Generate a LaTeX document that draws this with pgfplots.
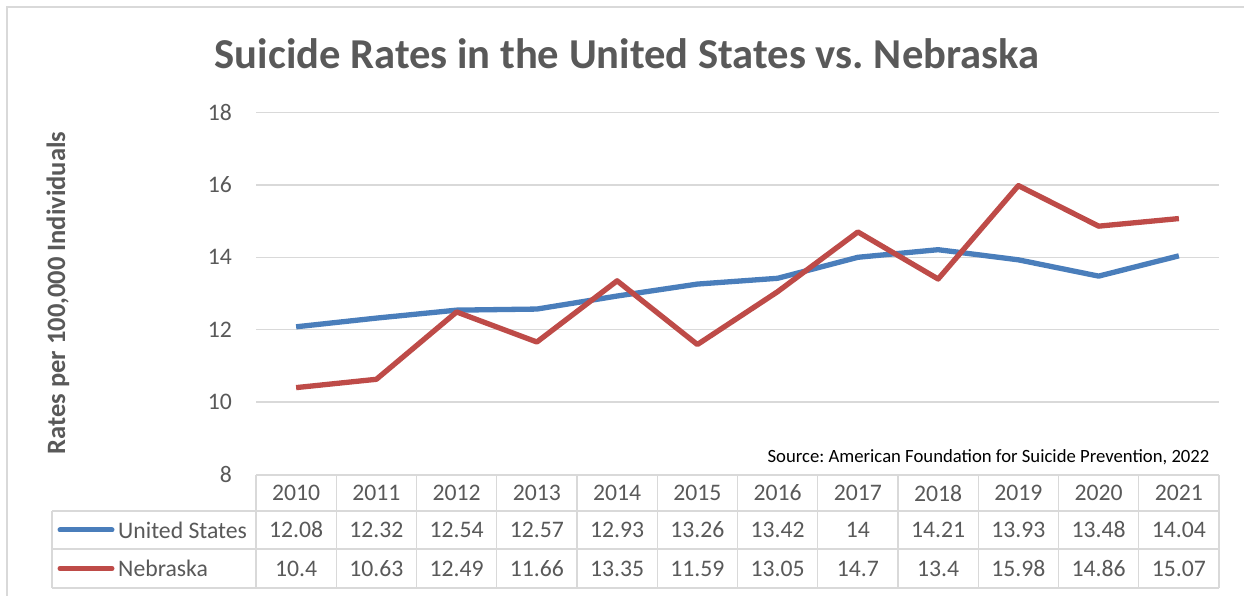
\documentclass[border=0pt]{standalone}
\usepackage{pgfplots}
\pgfplotsset{compat=1.18}
\usepackage{pgfplotstable}
\usepackage{fontspec}
\setmainfont{Carlito}
\frenchspacing
\definecolor{txt}{HTML}{595959}
\definecolor{grd}{HTML}{D9D9D9}
\definecolor{usb}{HTML}{4A7EBB}
\definecolor{ner}{HTML}{BE4B48}

\pgfplotstableread{
x year us ne
0 2010 12.08 10.4
1 2011 12.32 10.63
2 2012 12.54 12.49
3 2013 12.57 11.66
4 2014 12.93 13.35
5 2015 13.26 11.59
6 2016 13.42 13.05
7 2017 14 14.7
8 2018 14.21 13.4
9 2019 13.93 15.98
10 2020 13.48 14.86
11 2021 14.04 15.07
}\data

\newcommand{\tf}{\fontsize{23.7}{28}\selectfont}

\begin{document}
\frenchspacing
\begin{tikzpicture}
\useasboundingbox (0pt,0pt) rectangle (1244pt,596pt);
\fill[white] (0pt,0pt) rectangle (1244pt,596pt);
\draw[grd, line width=1.3pt] (7pt,0pt) -- (7pt,589pt) -- (1244pt,589pt);
\node[font=\bfseries\fontsize{42.6}{50}\selectfont, text=txt, anchor=base] at (627pt,527pt) {Suicide Rates in the United States vs. Nebraska};
\node[font=\bfseries\fontsize{26.5}{30}\selectfont, text=txt, rotate=90] at (58pt,303pt) {Rates per 100,000 Individuals};
\node[font=\fontsize{18.7}{22}\selectfont, text=black, anchor=base east] at (1213pt,133pt) {Source: American Foundation for Suicide Prevention, 2022};
% table grid
\begin{scope}[grd, line width=1.3pt]
\draw (256pt,121pt) -- (1219pt,121pt);
\draw (52pt,85pt) -- (1219pt,85pt);
\draw (52pt,47pt) -- (1219pt,47pt);
\draw (52pt,8pt) -- (1219pt,8pt);
\draw (52pt,85pt) -- (52pt,8pt);
\foreach \k in {0,...,12} {\draw ({(256+80.25*\k)*1pt},121pt) -- ({(256+80.25*\k)*1pt},8pt);}
\end{scope}
\draw[usb, line width=5pt, line cap=round] (60pt,66pt) -- (112pt,66pt);
\draw[ner, line width=5pt, line cap=round] (60pt,27.5pt) -- (112pt,27.5pt);
\node[font=\tf, text=txt, anchor=west, inner sep=0pt] at (118pt,66pt) {United States};
\node[font=\tf, text=txt, anchor=west, inner sep=0pt] at (118pt,27.5pt) {Nebraska};
\begin{axis}[
 at={(256pt,121.5pt)}, anchor=south west,
 width=963pt, height=362pt, scale only axis,
 xmin=-0.5, xmax=11.5, ymin=8, ymax=18,
 ytick={8,10,...,18}, xtick=\empty,
 axis line style={draw=none}, major tick length=0pt,
 ymajorgrids, grid style={grd, line width=1.3pt},
 yticklabel style={font=\tf, text=txt, inner sep=0pt, xshift=-24pt},
 /pgf/number format/assume math mode=true,
 clip=false,
]
\addplot[usb, line width=5.3pt, line join=round, mark=none] table[x=x,y=us]{\data};
\addplot[ner, line width=5.3pt, line join=round, mark=none] table[x=x,y=ne]{\data};
\addplot[draw=none, mark=none, forget plot, nodes near coords, point meta=explicit symbolic, nodes near coords align={center}, every node near coord/.append style={font=\tf, text=txt}] table[x=x, y expr=7.489, meta=year]{\data};
\addplot[draw=none, mark=none, forget plot, nodes near coords, point meta=explicit symbolic, nodes near coords align={center}, every node near coord/.append style={font=\tf, text=txt}] table[x=x, y expr=6.467, meta=us]{\data};
\addplot[draw=none, mark=none, forget plot, nodes near coords, point meta=explicit symbolic, nodes near coords align={center}, every node near coord/.append style={font=\tf, text=txt}] table[x=x, y expr=5.403, meta=ne]{\data};
\end{axis}
\end{tikzpicture}
\end{document}
